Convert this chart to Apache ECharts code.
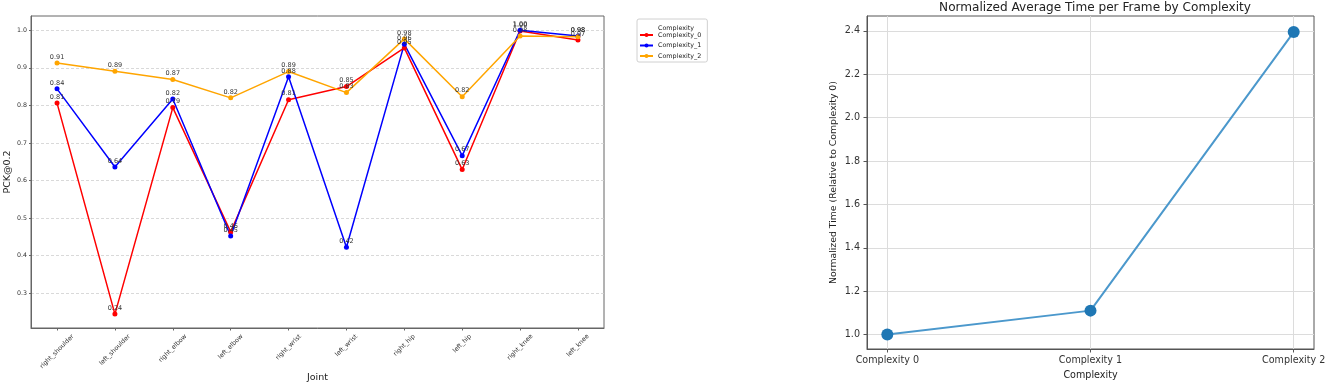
<!DOCTYPE html>
<html>
<head>
<meta charset="utf-8">
<script src="https://cdn.jsdelivr.net/npm/echarts@6/dist/echarts.min.js"></script>
<style>
html,body{margin:0;padding:0;background:#fff;}
#chart{width:1332px;height:385px;}
</style>
</head>
<body>
<div id="chart"></div>
<script>
// ---- data ----
const joints = ['right_shoulder','left_shoulder','right_elbow','left_elbow','right_wrist','left_wrist','right_hip','left_hip','right_knee','left_knee'];
const complexity0 = [0.806, 0.244, 0.794, 0.463, 0.815, 0.850, 0.953, 0.629, 0.998, 0.974];
const complexity1 = [0.844, 0.636, 0.817, 0.452, 0.876, 0.422, 0.963, 0.666, 1.000, 0.985];
const complexity2 = [0.913, 0.891, 0.869, 0.820, 0.890, 0.834, 0.977, 0.823, 0.985, 0.983];
const seriesNames = ['Complexity_0','Complexity_1','Complexity_2'];
const leftYTicks = [0.3, 0.4, 0.5, 0.6, 0.7, 0.8, 0.9, 1.0];

const timeCategories = ['Complexity 0','Complexity 1','Complexity 2'];
const normTime = [1.0, 1.11, 2.395];
const rightYTicks = [1.0, 1.2, 1.4, 1.6, 1.8, 2.0, 2.2, 2.4];

// ---- chart ----
const FONT = 'DejaVu Sans';
const JFS = 6.3;
const chart = echarts.init(document.getElementById('chart'), null, {renderer:'canvas'});
const jointIdx = joints.map((_, i) => i);
const timeIdx = timeCategories.map((_, i) => i);
const colors = ['#ff0000', '#0000ff', '#ffa500'];
const pck = [complexity0, complexity1, complexity2];

// rotated joint labels centred under their tick (matplotlib style): pad each label so box centre stays put
const measCtx = document.createElement('canvas').getContext('2d');
measCtx.font = JFS + 'px "' + FONT + '"';
const jointRich = {};
joints.forEach((j, i) => {
  const R = (measCtx.measureText(j).width + 7) / 2;
  jointRich['j' + i] = {padding: [R, R, 0, 0], fontFamily: FONT, fontSize: JFS, color: '#333'};
});

const leftSeries = pck.map((arr, s) => ({
  name: seriesNames[s],
  type: 'line',
  xAxisIndex: 0, yAxisIndex: 0,
  data: arr.map((v, i) => [i, v]),
  symbol: 'circle', symbolSize: 5,
  lineStyle: {color: colors[s], width: 1.5},
  itemStyle: {color: colors[s]},
  label: {show: true, position: 'top', distance: 0, fontFamily: FONT, fontSize: 6.5, color: '#333',
          formatter: p => p.value[1].toFixed(2)},
  emphasis: {disabled: true},
  animation: false, z: 3
}));

const option = {
  animation: false,
  backgroundColor: '#fff',
  title: [
    {text: 'Complexity', left: 671, top: 20, textAlign: 'center',
     textStyle: {fontFamily: FONT, fontSize: 6.4, fontWeight: 'normal', color: '#222'}},
    {text: 'Normalized Average Time per Frame by Complexity', left: 1090, top: -3, textAlign: 'center',
     textStyle: {fontFamily: FONT, fontSize: 12.1, fontWeight: 'normal', color: '#222'}}
  ],
  legend: {
    data: seriesNames,
    orient: 'vertical',
    left: 637, top: 19,
    width: 69,
    padding: [13, 6, 3, 2],
    itemWidth: 13, itemHeight: 5, itemGap: 4.5,
    borderColor: '#d0d0d0', borderWidth: 1, borderRadius: 2,
    backgroundColor: '#fff',
    textStyle: {fontFamily: FONT, fontSize: 6.4, color: '#222', padding: [0, 0, 0, 0]},
    selectedMode: false
  },
  grid: [
    {left: 31, top: 16, width: 573, height: 312, outerBoundsMode: 'none', containLabel: false,
     show: true, borderColor: '#666', borderWidth: 1, backgroundColor: 'transparent'},
    {left: 867, top: 16, width: 447, height: 333, outerBoundsMode: 'none', containLabel: false,
     show: true, borderColor: '#555', borderWidth: 1, backgroundColor: 'transparent'}
  ],
  xAxis: [
    {type: 'value', gridIndex: 0, min: -0.45, max: 9.45,
     name: 'Joint', nameLocation: 'middle', nameGap: 45, nameMoveOverlap: false,
     nameTextStyle: {fontFamily: FONT, fontSize: 9.5, color: '#222'},
     axisLine: {show: true, onZero: false, lineStyle: {color: '#666', width: 1}},
     axisTick: {show: true, length: 2.5, customValues: jointIdx, lineStyle: {color: '#666'}},
     axisLabel: {customValues: jointIdx, rotate: 45, margin: 5, align: 'center', verticalAlign: 'middle',
                 fontFamily: FONT, fontSize: JFS, color: '#333', rich: jointRich,
                 formatter: v => { const i = Math.round(v); return '{j' + i + '|' + joints[i] + '}'; }},
     splitLine: {show: false}},
    {type: 'value', gridIndex: 1, min: -0.1, max: 2.1,
     name: 'Complexity', nameLocation: 'middle', nameGap: 21,
     nameTextStyle: {fontFamily: FONT, fontSize: 9.6, color: '#222'},
     axisLine: {show: true, onZero: false, lineStyle: {color: '#555', width: 1}},
     axisTick: {show: true, length: 3.5, customValues: timeIdx, lineStyle: {color: '#555'}},
     axisLabel: {customValues: timeIdx, margin: 6, fontFamily: FONT, fontSize: 9.6, color: '#333',
                 formatter: v => timeCategories[Math.round(v)]},
     splitLine: {show: true, lineStyle: {color: '#dcdcdc', width: 1}}}
  ],
  yAxis: [
    {type: 'value', gridIndex: 0, min: 0.207, max: 1.038,
     name: 'PCK@0.2', nameLocation: 'middle', nameGap: 18,
     nameTextStyle: {fontFamily: FONT, fontSize: 9.5, color: '#222'},
     axisLine: {show: true, onZero: false, lineStyle: {color: '#666', width: 1}},
     axisTick: {show: true, length: 2, customValues: leftYTicks, lineStyle: {color: '#666'}},
     axisLabel: {customValues: leftYTicks, margin: 4, fontFamily: FONT, fontSize: 6.3, color: '#333',
                 formatter: v => v.toFixed(1)},
     splitLine: {show: true, lineStyle: {color: '#cfcfcf', width: 0.8, type: [3, 2]}}},
    {type: 'value', gridIndex: 1, min: 0.933, max: 2.469,
     name: 'Normalized Time (Relative to Complexity 0)', nameLocation: 'middle', nameGap: 29,
     nameTextStyle: {fontFamily: FONT, fontSize: 9.3, color: '#222'},
     axisLine: {show: true, onZero: false, lineStyle: {color: '#555', width: 1}},
     axisTick: {show: true, length: 3.5, customValues: rightYTicks, lineStyle: {color: '#555'}},
     axisLabel: {customValues: rightYTicks, margin: 7, fontFamily: FONT, fontSize: 9.6, color: '#333',
                 formatter: v => v.toFixed(1)},
     splitLine: {show: true, lineStyle: {color: '#dcdcdc', width: 1}}}
  ],
  series: leftSeries.concat([
    {name: 'Normalized Time', type: 'line', xAxisIndex: 1, yAxisIndex: 1,
     data: normTime.map((v, i) => [i, v]),
     symbol: 'circle', symbolSize: 12,
     lineStyle: {color: '#4b98cc', width: 2},
     itemStyle: {color: '#1f77b4'},
     emphasis: {disabled: true}, z: 3}
  ])
};
chart.setOption(option);
</script>
</body>
</html>
